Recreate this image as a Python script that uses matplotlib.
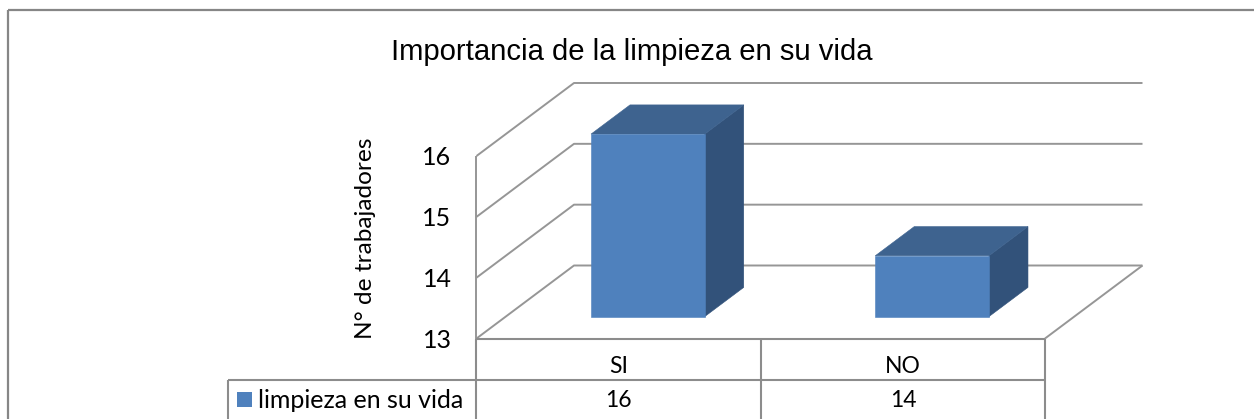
import matplotlib
matplotlib.use('Agg')
import matplotlib.pyplot as plt
from matplotlib.lines import Line2D
from matplotlib.patches import Polygon, Rectangle

categories = ['SI', 'NO']
values = [16, 14]
series_name = 'limpieza en su vida'
yticks = [13, 14, 15, 16]
title = 'Importancia de la limpieza en su vida'
ylabel = 'N° de trabajadores'

W, H = 1254, 419
GRID = '#969696'
FRONT, TOP, SIDE = '#4f81bd', '#3e638f', '#32527a'

# front plane of the 3d box, in pixels
left, right, y_top, y_bot = 476.5, 1045, 156, 338.5
depth_x, depth_y = 97.5 / 284.25, 73 / 60.83  # full depth in data units
bar_w = 0.4
bar_d0, bar_d1 = 0.3, 0.7

fig = plt.figure(figsize=(W / 100, H / 100), dpi=100, facecolor='white')
plt.rcParams['font.family'] = ['Lato', 'DejaVu Sans']
ax = fig.add_axes([left / W, 1 - y_bot / H, (right - left) / W, (y_bot - y_top) / H])
ax.set_xlim(0, len(categories))
ax.set_ylim(min(yticks), max(yticks))
ax.patch.set_visible(False)
for s in ax.spines.values():
    s.set_visible(False)


def proj(x, y, d):
    return (x + d * depth_x, y + d * depth_y)


def line(x, y, lw=1.4):
    ax.plot(x, y, color=GRID, lw=lw, clip_on=False, zorder=1, solid_capstyle='butt')


# walls and gridlines
for t in yticks:
    a, b, c = proj(0, t, 0), proj(0, t, 1), proj(len(categories), t, 1)
    line([a[0], b[0], c[0]], [a[1], b[1], c[1]])
line([0, 0], [yticks[0], yticks[-1]])
a, b = proj(len(categories), yticks[0], 0), proj(len(categories), yticks[0], 1)
line([a[0], b[0]], [a[1], b[1]])

# bars
base = yticks[0]
for i, v in enumerate(values):
    x0, x1 = i + 0.5 - bar_w / 2, i + 0.5 + bar_w / 2
    front = [proj(x0, base, bar_d0), proj(x1, base, bar_d0), proj(x1, v, bar_d0), proj(x0, v, bar_d0)]
    top = [proj(x0, v, bar_d0), proj(x1, v, bar_d0), proj(x1, v, bar_d1), proj(x0, v, bar_d1)]
    side = [proj(x1, base, bar_d0), proj(x1, base, bar_d1), proj(x1, v, bar_d1), proj(x1, v, bar_d0)]
    for pts, col in [(side, SIDE), (top, TOP), (front, FRONT)]:
        ax.add_patch(Polygon(pts, closed=True, facecolor=col, edgecolor=col, lw=0.4, clip_on=False, zorder=3))

ax.set_xticks([])
ax.set_yticks(yticks)
ax.tick_params(axis='y', length=0, pad=18, labelsize=18)


def fig_line(x0, y0, x1, y1, lw=1.5, color='#8c8c8c'):
    fig.add_artist(Line2D([x0 / W, x1 / W], [1 - y0 / H, 1 - y1 / H], color=color, lw=lw, solid_capstyle='butt'))


def fig_text(x, y, s, **kw):
    fig.text(x / W, 1 - y / H, s, **kw)


# outer chart frame, cut off at the right and bottom of the picture
fig_line(8, 10, W, 10, lw=1.6, color='#868686')
fig_line(8, 10, 8, H, lw=1.6, color='#868686')

# data table
row1, row2 = 380, H
fig_line(left, y_bot, right, y_bot)
fig_line(228, row1, right, row1)
fig_line(228, row1, 228, row2)
cat_w = (right - left) / len(categories)
for i in range(len(categories) + 1):
    fig_line(left + i * cat_w, y_bot, left + i * cat_w, row2)
for i, (c, v) in enumerate(zip(categories, values)):
    cx = left + (i + 0.5) * cat_w
    fig_text(cx, 366, c, ha='center', va='center', fontsize=16.5)
    fig_text(cx, 400, str(v), ha='center', va='center', fontsize=16.5)
fig.add_artist(Rectangle((237 / W, 1 - 407 / H), 15 / W, 15 / H, transform=fig.transFigure, facecolor=FRONT, edgecolor='none'))
fig_text(258, 400, series_name, ha='left', va='center', fontsize=18)

fig_text(632, 52, title, ha='center', va='center', fontsize=21.1, family='Liberation Sans')
fig_text(365, 238.5, ylabel, ha='center', va='center', rotation=90, fontsize=17.6)

plt.savefig('out.png', dpi=100)
